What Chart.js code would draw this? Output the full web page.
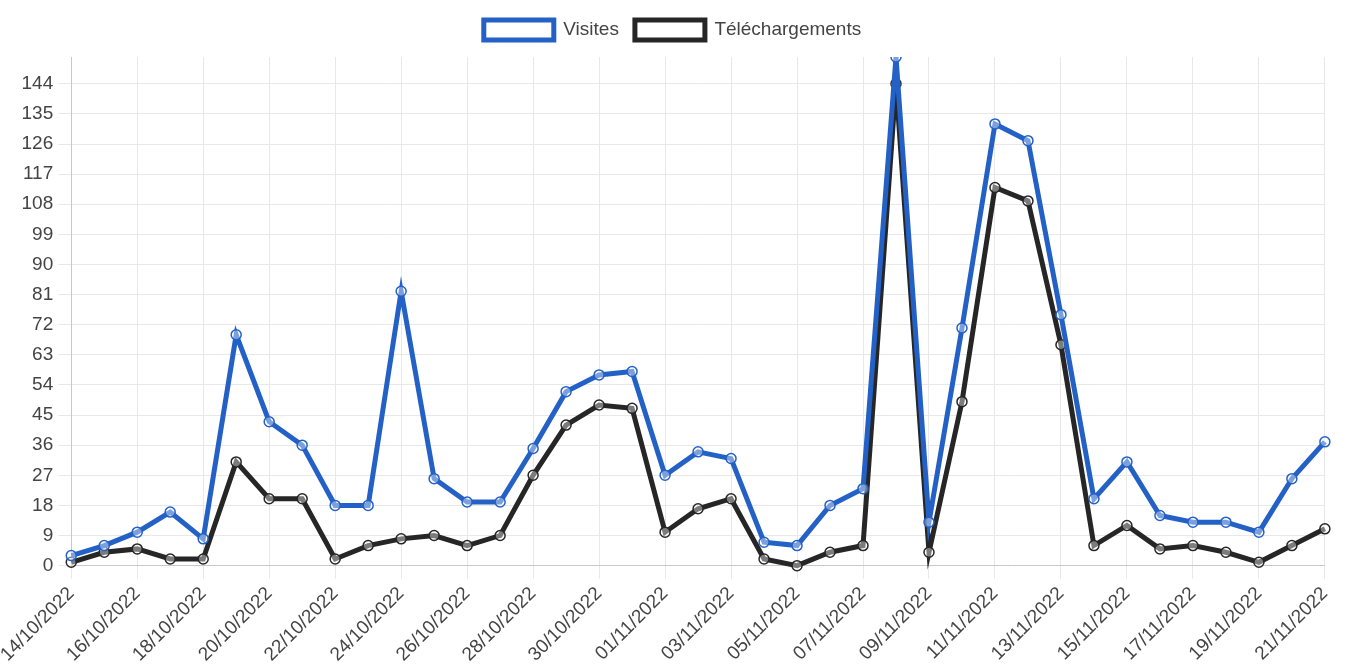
<!DOCTYPE html>
<html>
<head>
<meta charset="utf-8">
<script src="https://cdn.jsdelivr.net/npm/chart.js@4.4.0/dist/chart.umd.min.js"></script>
<style>
    body { margin: 0; background: #fff; }
</style>
</head>
<body>
<canvas id="ChartForStats" width="1345" height="670"></canvas>
<script>

var jours = ['14/10/2022', '15/10/2022', '16/10/2022', '17/10/2022', '18/10/2022', '19/10/2022', '20/10/2022',
    '21/10/2022', '22/10/2022', '23/10/2022', '24/10/2022', '25/10/2022', '26/10/2022', '27/10/2022',
    '28/10/2022', '29/10/2022', '30/10/2022', '31/10/2022', '01/11/2022', '02/11/2022', '03/11/2022',
    '04/11/2022', '05/11/2022', '06/11/2022', '07/11/2022', '08/11/2022', '09/11/2022', '10/11/2022',
    '11/11/2022', '12/11/2022', '13/11/2022', '14/11/2022', '15/11/2022', '16/11/2022', '17/11/2022',
    '18/11/2022', '19/11/2022', '20/11/2022', '21/11/2022'];

var visites = [3, 6, 10, 16, 8, 69, 43, 36, 18, 18, 82, 26, 19, 19, 35, 52, 57, 58, 27, 34, 32, 7, 6, 18, 23,
    152, 13, 71, 132, 127, 75, 20, 31, 15, 13, 13, 10, 26, 37];

var telechargements = [1, 4, 5, 2, 2, 31, 20, 20, 2, 6, 8, 9, 6, 9, 27, 42, 48, 47, 10, 17, 20, 2, 0, 4, 6,
    144, 4, 49, 113, 109, 66, 6, 12, 5, 6, 4, 1, 6, 11];

var pasY = 9;

$ready();

function $ready() {

    Chart.defaults.font.family = 'Arial, "Liberation Sans", sans-serif';
    Chart.defaults.font.size = 19;
    Chart.defaults.color = '#444';

    // a bit more room between the legend and the plot
    var legendMargin = {
        id: 'legendMargin',
        beforeInit: function (chart) {
            var fit = chart.legend.fit;
            chart.legend.fit = function () {
                fit.bind(chart.legend)();
                this.height += 7;
            };
        }
    };

    var ctx = document.getElementById('ChartForStats').getContext('2d');

    var ChartForStats = new Chart(ctx, {
        type: 'line',
        data: {
            labels: jours,
            datasets: [{
                label: 'Visites',
                data: visites,
                borderColor: '#2461c6',
                backgroundColor: 'rgba(255,255,255,0.6)',
                borderWidth: 5,
                pointRadius: 5,
                pointBorderWidth: 1.5,
                pointBackgroundColor: 'rgba(255,255,255,0.4)',
                tension: 0
            }, {
                label: 'Téléchargements',
                data: telechargements,
                borderColor: '#262626',
                backgroundColor: 'rgba(255,255,255,0.6)',
                borderWidth: 5,
                pointRadius: 5,
                pointBorderWidth: 1.5,
                pointBackgroundColor: 'rgba(255,255,255,0.4)',
                tension: 0
            }]
        },
        plugins: [legendMargin],
        options: {
            responsive: false,
            animation: false,
            layout: {
                padding: { top: 4 }
            },
            plugins: {
                legend: {
                    labels: {
                        boxWidth: 70,
                        boxHeight: 20,
                        padding: 16,
                        color: '#444'
                    }
                },
                tooltip: { enabled: false }
            },
            scales: {
                x: {
                    grid: {
                        color: '#e8e8e8',
                        tickLength: 13
                    },
                    border: { color: '#c8c8c8' },
                    ticks: {
                        autoSkip: false,
                        minRotation: 45,
                        maxRotation: 45,
                        padding: 4,
                        callback: function (v, i) {
                            return i % 2 ? null : jours[i];
                        }
                    }
                },
                y: {
                    beginAtZero: true,
                    max: Math.max.apply(null, visites),
                    grid: {
                        color: '#e8e8e8',
                        tickLength: 13
                    },
                    border: { color: '#c8c8c8' },
                    ticks: {
                        stepSize: pasY,
                        includeBounds: false,
                        padding: 5
                    }
                }
            }
        }
    });
}
</script>
</body>
</html>
